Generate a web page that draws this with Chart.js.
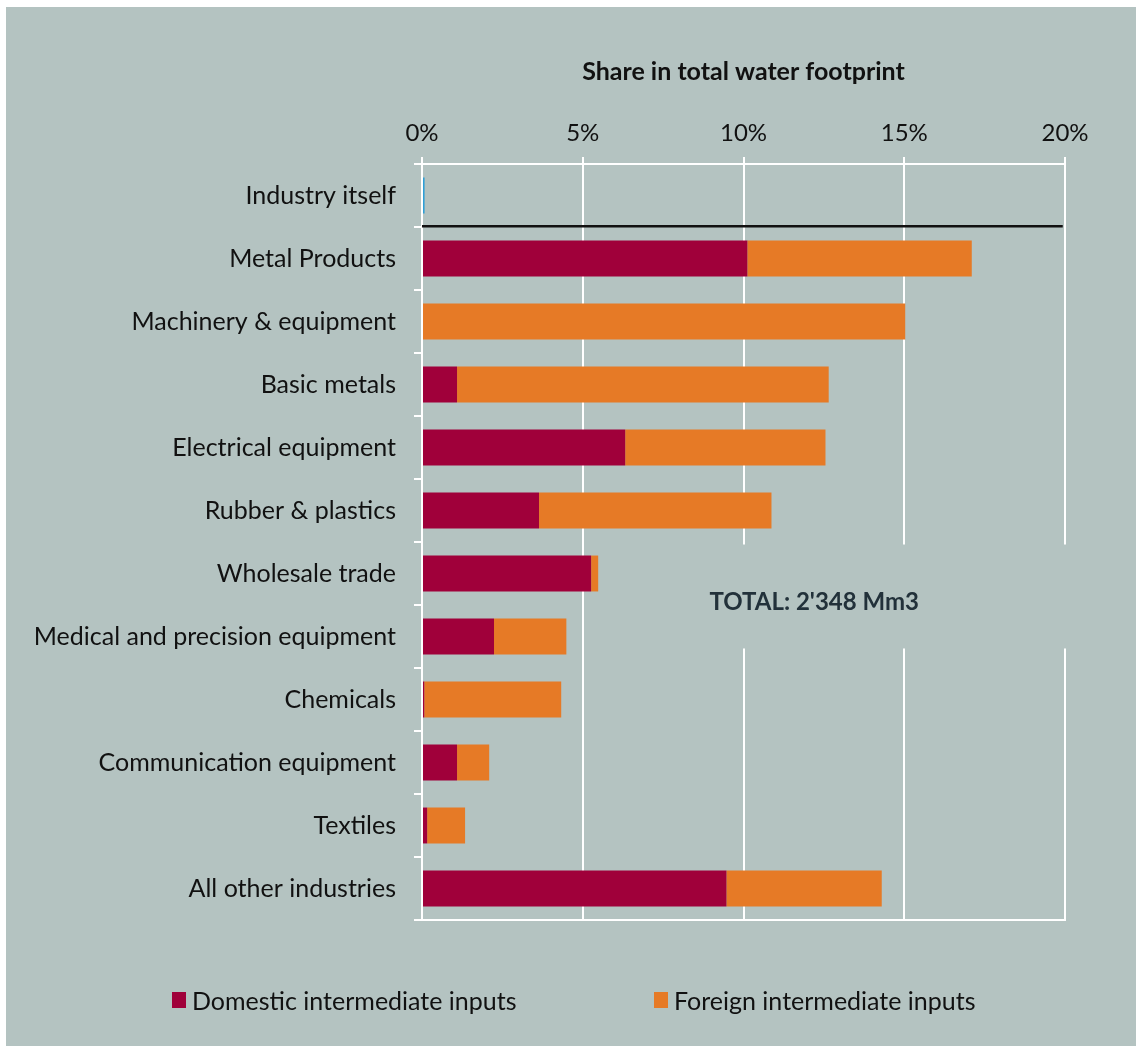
<!DOCTYPE html>
<html>
<head>
<meta charset="utf-8">
<script src="https://cdn.jsdelivr.net/npm/chart.js@4.4.1/dist/chart.umd.min.js"></script>
<style>
    html, body { margin: 0; padding: 0; background: #ffffff; }
    #wrap { width: 1136px; height: 1046px; }
</style>
</head>
<body>
<div id="wrap"><canvas id="waterChart" width="1136" height="1046"></canvas></div>
<script>
// ==================== DATOS ====================
const categories = [
    'Industry itself',
    'Metal Products',
    'Machinery & equipment',
    'Basic metals',
    'Electrical equipment',
    'Rubber & plastics',
    'Wholesale trade',
    'Medical and precision equipment',
    'Chemicals',
    'Communication equipment',
    'Textiles',
    'All other industries'
];
// share in total water footprint, %
const domesticInputs = [0, 10.12, 0, 1.09, 6.32, 3.64, 5.26, 2.24, 0.07, 1.09, 0.16, 9.47];
const foreignInputs  = [0, 6.98, 15.03, 11.56, 6.23, 7.23, 0.22, 2.25, 4.26, 1.00, 1.18, 4.83];
const industryItself = [0.08, 0, 0, 0, 0, 0, 0, 0, 0, 0, 0, 0];
const xTicks = [0, 5, 10, 15, 20];
const totalLabel = "TOTAL: 2'348 Mm3";

// ==================== ESTILOS ====================
const BG = '#b4c3c1';
const FONT = "Lato, 'Noto Sans', sans-serif";

// ==================== PLUGINS ====================
const backgroundPlugin = {
    id: 'background',
    beforeDraw(chart) {
        const ctx = chart.ctx;
        ctx.save();
        ctx.fillStyle = '#ffffff';
        ctx.fillRect(0, 0, chart.width, chart.height);
        ctx.fillStyle = BG;
        ctx.fillRect(6, 7, chart.width - 6, chart.height - 7);
        ctx.restore();
    }
};

// caja del total: tapa las líneas de la grilla
const totalBoxPlugin = {
    id: 'totalBox',
    beforeDatasetsDraw(chart) {
        const { ctx, scales: { x, y } } = chart;
        const left = x.getPixelForValue(5.6);
        const right = x.getPixelForValue(20.4);
        const top = y.getPixelForValue(5.54);
        const bottom = y.getPixelForValue(7.19);
        ctx.save();
        ctx.fillStyle = BG;
        ctx.fillRect(left, top, right - left, bottom - top);
        ctx.fillStyle = '#22313a';
        ctx.font = "bold 24px " + FONT;
        ctx.textAlign = 'center';
        ctx.textBaseline = 'middle';
        ctx.fillText(totalLabel, x.getPixelForValue(12.2), y.getPixelForValue(6.45));

        // borde inferior blanco del área del gráfico
        ctx.strokeStyle = '#ffffff';
        ctx.lineWidth = 2;
        ctx.beginPath();
        ctx.moveTo(x.getPixelForValue(0), y.bottom);
        ctx.lineTo(x.getPixelForValue(20) + 1, y.bottom);
        ctx.stroke();
        ctx.restore();
    },
    afterDatasetsDraw(chart) {
        // línea negra bajo "Industry itself"
        const { ctx, scales: { x, y } } = chart;
        const yy = y.getPixelForValue(0.49);
        ctx.save();
        ctx.strokeStyle = '#111111';
        ctx.lineWidth = 2.5;
        ctx.beginPath();
        ctx.moveTo(x.getPixelForValue(0), yy);
        ctx.lineTo(x.getPixelForValue(19.93), yy);
        ctx.stroke();
        ctx.restore();
    }
};

const legendPlugin = {
    id: 'customLegend',
    afterDraw(chart) {
        const ctx = chart.ctx;
        const items = [
            { ds: chart.data.datasets[0], x: 172 },
            { ds: chart.data.datasets[1], x: 654 }
        ];
        ctx.save();
        ctx.font = "25px " + FONT;
        ctx.textBaseline = 'middle';
        ctx.textAlign = 'left';
        items.forEach(item => {
            ctx.fillStyle = item.ds.backgroundColor;
            ctx.fillRect(item.x, 992, 14, 16);
            ctx.fillStyle = '#111111';
            ctx.fillText(item.ds.label, item.x + 20, 1002);
        });
        ctx.restore();
    }
};

// ==================== GRÁFICO ====================
const ctx = document.getElementById('waterChart').getContext('2d');
new Chart(ctx, {
    type: 'bar',
    data: {
        labels: categories,
        datasets: [
            {
                label: 'Domestic intermediate inputs',
                data: domesticInputs,
                backgroundColor: '#a0003a',
                borderWidth: 0
            },
            {
                label: 'Foreign intermediate inputs',
                data: foreignInputs,
                backgroundColor: '#e67a26',
                borderWidth: 0
            },
            {
                label: 'Industry itself',
                data: industryItself,
                backgroundColor: '#2e9fd6',
                borderWidth: 0
            }
        ]
    },
    options: {
        indexAxis: 'y',
        responsive: false,
        animation: false,
        barPercentage: 0.57,
        categoryPercentage: 1,
        layout: {
            padding: { left: 6, top: 7, right: 71, bottom: 126 }
        },
        plugins: {
            legend: { display: false },
            tooltip: { enabled: false }
        },
        scales: {
            x: {
                position: 'top',
                stacked: true,
                min: 0,
                max: 20,
                afterBuildTicks: function(scale) {
                    scale.ticks = xTicks.map(v => ({ value: v }));
                },
                afterFit: function(scale) {
                    scale.height = 157;
                },
                ticks: {
                    color: '#111111',
                    padding: 9,
                    font: { family: FONT, size: 24 },
                    callback: function(value) {
                        return value + '%';
                    }
                },
                grid: {
                    color: '#ffffff',
                    lineWidth: 2,
                    tickLength: 7
                },
                border: {
                    color: '#ffffff',
                    width: 2
                },
                title: {
                    display: true,
                    text: 'Share in total water footprint',
                    color: '#111111',
                    font: { family: FONT, size: 25, weight: 'bold' },
                    padding: { top: 50, bottom: 0 }
                }
            },
            y: {
                stacked: true,
                afterFit: function(scale) {
                    scale.width = 416;
                },
                ticks: {
                    color: '#111111',
                    padding: 18,
                    font: { family: FONT, size: 25 }
                },
                grid: {
                    color: '#ffffff',
                    lineWidth: 2,
                    drawOnChartArea: false,
                    tickLength: 8
                },
                border: {
                    color: '#ffffff',
                    width: 2
                }
            }
        }
    },
    plugins: [backgroundPlugin, totalBoxPlugin, legendPlugin]
});
</script>
</body>
</html>
